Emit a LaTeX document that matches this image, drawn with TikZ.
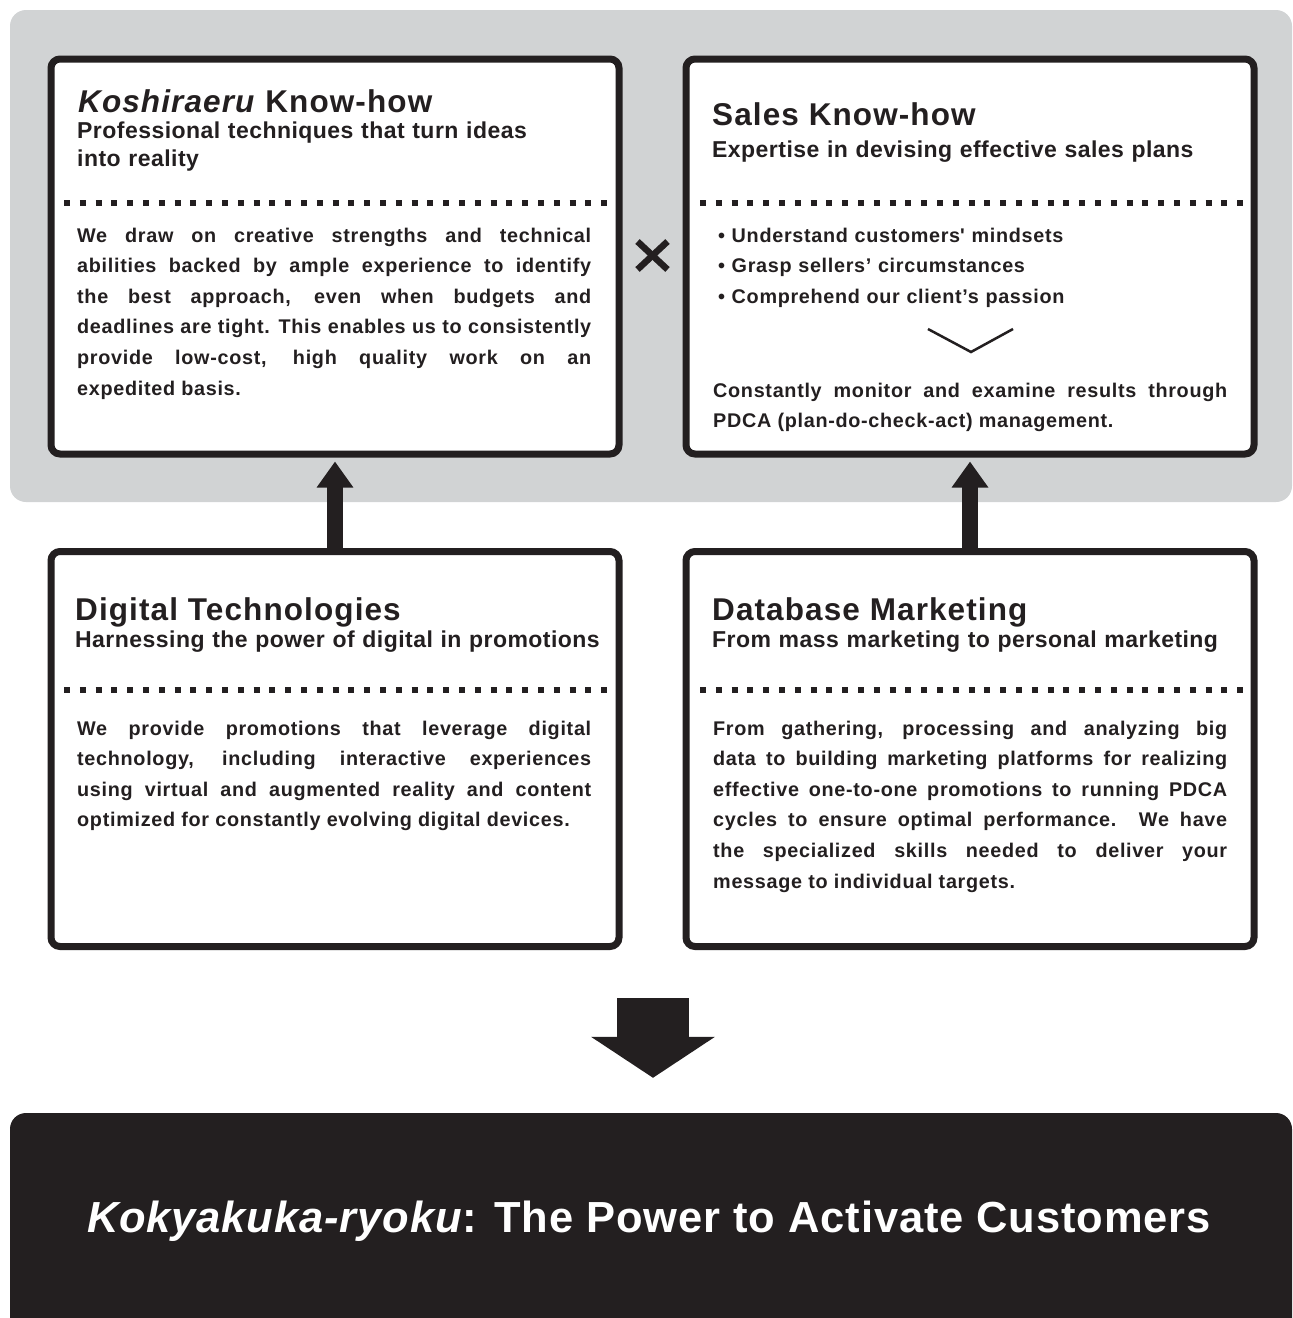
\documentclass[tikz,border=0pt]{standalone}
\usepackage{fontspec}
\setmainfont{Liberation Sans}[LetterSpace=2]
\usetikzlibrary{arrows.meta}
\definecolor{panelgrey}{HTML}{D1D3D4}
\definecolor{inkdark}{HTML}{231F20}
\tikzset{
	knowbox/.style={draw=inkdark, fill=white, line width=7pt, rounded corners=9pt, minimum width=568pt, minimum height=395pt, inner sep=0pt},
	headtext/.style={anchor=base west, inner sep=0pt, text=inkdark, font=\bfseries\addfontfeatures{LetterSpace=3.5}\fontsize{31.5}{34}\selectfont},
	subtext/.style={anchor=base west, inner sep=0pt, text=inkdark, text width=540pt, align=left, font=\bfseries\fontsize{23}{28}\selectfont},
	bodytext/.style={anchor=base west, inner sep=0pt, text=inkdark, text width=514pt, align=justify, font=\bfseries\addfontfeatures{LetterSpace=3.5}\fontsize{19.8}{30.6}\selectfont,
		execute at begin node={\tolerance=10000\relax\hyphenpenalty=10000\relax}},
	dotrule/.style={inkdark, line width=6pt, dash pattern=on 6pt off 9.8pt},
	liftarrow/.style={inkdark, line width=16pt, -{Triangle[width=35pt,length=26pt]}, shorten >=4pt},
}

\begin{document}
\begin{tikzpicture}[x=1pt, y=-1pt]
		%%%%% START %%%%%
		\clip (0,0) rectangle (1293,1318);
		
		\fill[panelgrey, rounded corners=16pt] (10,10) rectangle (1292,502);
		
		\node[knowbox] (koshi) at (335,256.5) {};
		\node[knowbox] (sales) at (970,256.5) {};
		\node[knowbox] (digital) at (335,749) {};
		\node[knowbox] (database) at (970,749) {};
		
		% top left
		\node[headtext] (koshititle) at (78,112) {\textit{Koshiraeru} Know-how};
		\node[subtext] (koshisub) at (77,138) {Professional techniques that turn ideas\\into reality};
		\draw[dotrule] (64,203) -- (607,203);
		\node[bodytext] (koshibody) at (77,242) {We draw on creative strengths and technical\linebreak
			abilities backed by ample experience to identify\linebreak
			the best approach, even when budgets and\linebreak
			deadlines are tight. This enables us to consistently\linebreak
			provide low-cost, high quality work on an\linebreak
			expedited basis.};
		
		\draw[inkdark, line width=6.5pt] (637.5,241.5) -- (667.5,269.5);
		\draw[inkdark, line width=6.5pt] (637.5,269.5) -- (667.5,241.5);
		
		% top right
		\node[headtext] (salestitle) at (712,125) {Sales Know-how};
		\node[subtext] (salessub) at (712,157) {Expertise in devising effective sales plans};
		\draw[dotrule] (700,203) -- (1243,203);
		\node[subtext, font=\bfseries\addfontfeatures{LetterSpace=3.5}\fontsize{19.8}{30.6}\selectfont] (salespoints) at (718,242) {%
			• Understand customers\textquotesingle\ mindsets\\
			• Grasp sellers’ circumstances\\
			• Comprehend our client’s passion};
		\draw[inkdark, line width=2.5pt] (928,329) -- (971,352) -- (1013,329);
		\node[bodytext] (salesbody) at (713,397) {Constantly monitor and examine results through\linebreak
			PDCA (plan-do-check-act) management.};
		
		% bottom left
		\node[headtext] (digitaltitle) at (75,620) {Digital Technologies};
		\node[subtext] (digitalsub) at (75,647) {Harnessing the power of digital in promotions};
		\draw[dotrule] (64,690) -- (607,690);
		\node[bodytext] (digitalbody) at (77,735) {We provide promotions that leverage digital\linebreak
			technology, including interactive experiences\linebreak
			using virtual and augmented reality and content\linebreak
			optimized for constantly evolving digital devices.};
		
		% bottom right
		\node[headtext] (databasetitle) at (712,620) {Database Marketing};
		\node[subtext] (databasesub) at (712,647) {From mass marketing to personal marketing};
		\draw[dotrule] (700,690) -- (1243,690);
		\node[bodytext] (databasebody) at (713,735) {From gathering, processing and analyzing big\linebreak
			data to building marketing platforms for realizing\linebreak
			effective one-to-one promotions to running PDCA\linebreak
			cycles to ensure optimal performance. We have\linebreak
			the specialized skills needed to deliver your\linebreak
			message to individual targets.};
		
		\draw[liftarrow] (digital.north) -- (koshi.south);
		\draw[liftarrow] (database.north) -- (sales.south);
		
		% result
		\node[fill=inkdark, rounded corners=16pt, minimum width=1282pt, minimum height=240pt, inner sep=0pt] (result) at (651,1233) {};
		\node[anchor=base, inner sep=0pt, text=white, font=\bfseries\fontsize{43.5}{50}\selectfont] (resultlabel) at (649,1232) {\textit{Kokyakuka-ryoku}: The Power to Activate Customers};
		
		\coordinate (flowtop) at (653,998);
		\draw[inkdark, line width=72pt, -{Triangle[width=122pt,length=41pt]}, shorten >=35pt] (flowtop) -- (flowtop |- result.north);
		
		%%%%% END %%%%%
	\end{tikzpicture}
\end{document}
